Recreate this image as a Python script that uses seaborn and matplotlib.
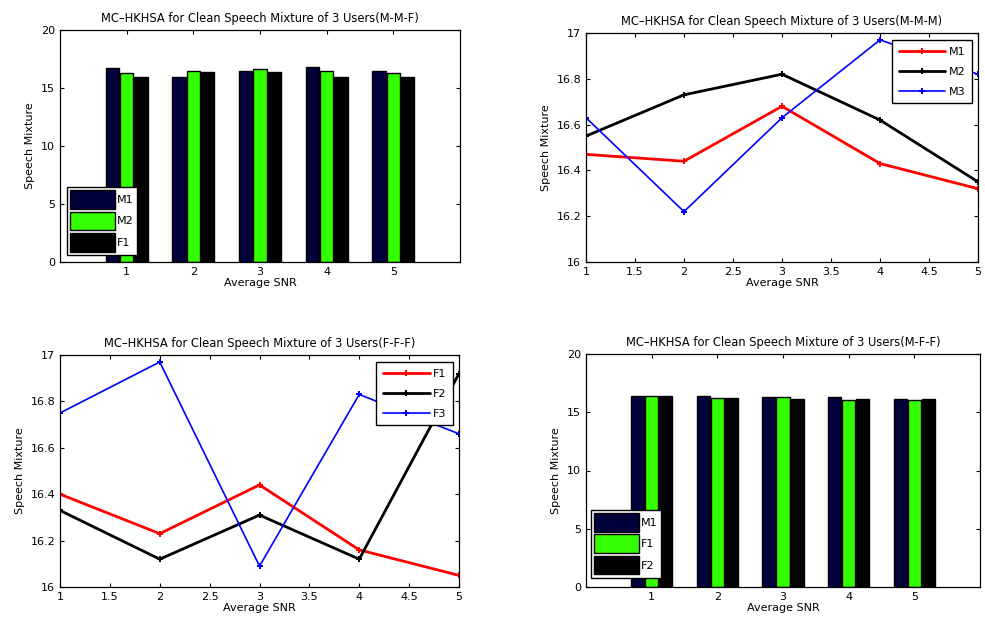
import pandas as pd
import matplotlib
matplotlib.use('Agg')
import matplotlib.pyplot as plt
import seaborn as sns

sns.set_style("ticks")
plt.rcParams['font.family'] = ['DejaVu Sans']
plt.rcParams['text.color'] = 'black'
plt.rcParams['axes.labelcolor'] = 'black'
plt.rcParams['xtick.color'] = 'black'
plt.rcParams['ytick.color'] = 'black'
plt.rcParams['axes.edgecolor'] = 'black'

# Data
snr = [1, 2, 3, 4, 5]

# M-M-F (bars)
mmf_m1 = [16.69, 15.97, 16.49, 16.83, 16.49]
mmf_m2 = [16.26, 16.46, 16.63, 16.46, 16.26]
mmf_f1 = [15.97, 16.35, 16.35, 15.97, 15.91]

# M-M-M (lines)
mmm_m1 = [16.47, 16.44, 16.68, 16.43, 16.32]
mmm_m2 = [16.55, 16.73, 16.82, 16.62, 16.35]
mmm_m3 = [16.63, 16.22, 16.63, 16.97, 16.82]

# F-F-F (lines)
fff_f1 = [16.40, 16.23, 16.44, 16.16, 16.05]
fff_f2 = [16.33, 16.12, 16.31, 16.12, 16.92]
fff_f3 = [16.75, 16.97, 16.09, 16.83, 16.66]

# M-F-F (bars)
mff_m1 = [16.41, 16.41, 16.27, 16.27, 16.13]
mff_f1 = [16.36, 16.21, 16.27, 16.07, 16.07]
mff_f2 = [16.41, 16.21, 16.13, 16.13, 16.13]

bar_colors = ['#00003a', '#33ff00', '#000000']
line_colors = ['#ff0000', '#000000', '#0000ff']
line_widths = [2.0, 2.0, 1.2]

fig = plt.figure(figsize=(9.85, 6.31), dpi=100)
W, H = 985, 631


def make_ax(x0, y0, x1, y1):
    return fig.add_axes([x0 / W, 1 - y1 / H, (x1 - x0) / W, (y1 - y0) / H])


def style_ax(ax, title):
    ax.set_title(title, fontsize=8.3, pad=6)
    ax.set_xlabel('Average SNR', fontsize=8, labelpad=1)
    ax.set_ylabel('Speech Mixture', fontsize=8, labelpad=4)
    ax.tick_params(direction='in', top=True, right=True, labelsize=8,
                   length=3, width=0.8)
    for s in ax.spines.values():
        s.set_linewidth(0.9)


def bar_panel(ax, title, names, vals, legend_box):
    df = pd.DataFrame({
        'snr': snr * 3,
        'val': vals[0] + vals[1] + vals[2],
        'user': [names[0]] * 5 + [names[1]] * 5 + [names[2]] * 5,
    })
    sns.barplot(data=df, x='snr', y='val', hue='user', hue_order=names,
                palette=bar_colors, saturation=1, width=0.64, gap=0.06,
                edgecolor='black', linewidth=1.0, ax=ax)
    ax.set_xlim(-1, 5)
    ax.set_ylim(0, 20)
    ax.set_yticks([0, 5, 10, 15, 20])
    style_ax(ax, title)
    ax.legend(loc='lower left', bbox_to_anchor=legend_box, fontsize=8,
              frameon=True, fancybox=False, edgecolor='black', framealpha=1,
              handlelength=4.0, handleheight=2.2, labelspacing=0.25,
              handletextpad=0.2, borderpad=0.3, borderaxespad=0)
    ax.get_legend().get_frame().set_linewidth(1.0)


def line_panel(ax, title, names, vals, legend_loc):
    for name, v, c, lw in zip(names, vals, line_colors, line_widths):
        sns.lineplot(x=snr, y=v, color=c, linewidth=lw, marker='P',
                     markersize=5, markeredgewidth=0, label=name, ax=ax)
    ax.set_xlim(1, 5)
    ax.set_ylim(16, 17)
    ax.set_xticks([1, 1.5, 2, 2.5, 3, 3.5, 4, 4.5, 5])
    ax.set_xticklabels(['1', '1.5', '2', '2.5', '3', '3.5', '4', '4.5', '5'])
    ax.set_yticks([16, 16.2, 16.4, 16.6, 16.8, 17])
    ax.set_yticklabels(['16', '16.2', '16.4', '16.6', '16.8', '17'])
    style_ax(ax, title)
    ax.legend(loc='upper right', bbox_to_anchor=legend_loc, fontsize=8,
              frameon=True, fancybox=False, edgecolor='black', framealpha=1,
              handlelength=4.2, labelspacing=0.9, handletextpad=0.3,
              borderpad=0.6, borderaxespad=0)
    ax.get_legend().get_frame().set_linewidth(1.0)


ax1 = make_ax(60, 30, 460, 262)
bar_panel(ax1, 'MC\u2013HKHSA for Clean Speech Mixture of 3 Users(M-M-F)',
          ['M1', 'M2', 'F1'], [mmf_m1, mmf_m2, mmf_f1], (0.017, 0.03))

ax2 = make_ax(586, 33, 978, 262)
line_panel(ax2, 'MC\u2013HKHSA for Clean Speech Mixture of 3 Users(M-M-M)',
           ['M1', 'M2', 'M3'], [mmm_m1, mmm_m2, mmm_m3], (0.985, 0.97))

ax3 = make_ax(60, 355, 459, 587)
line_panel(ax3, 'MC\u2013HKHSA for Clean Speech Mixture of 3 Users(F-F-F)',
           ['F1', 'F2', 'F3'], [fff_f1, fff_f2, fff_f3], (0.985, 0.97))

ax4 = make_ax(586, 354, 980, 587)
bar_panel(ax4, 'MC\u2013HKHSA for Clean Speech Mixture of 3 Users(M-F-F)',
          ['M1', 'F1', 'F2'], [mff_m1, mff_f1, mff_f2], (0.013, 0.04))

fig.savefig('out.png', dpi=100)
